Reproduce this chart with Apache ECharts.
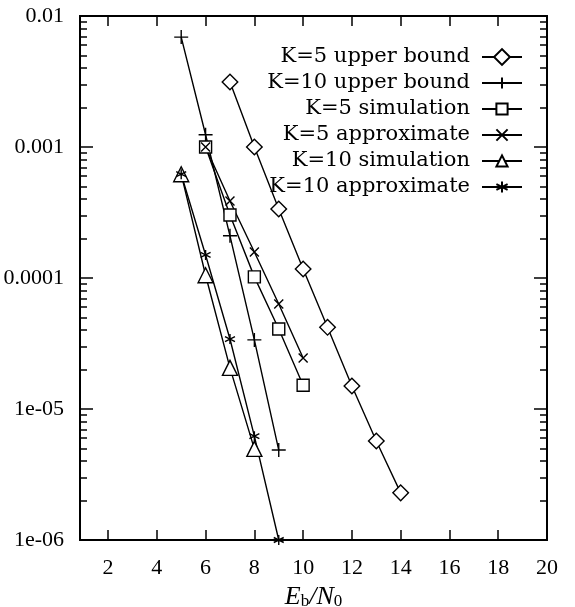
<!DOCTYPE html>
<html>
<head>
<meta charset="utf-8">
<script src="https://cdn.jsdelivr.net/npm/echarts@6/dist/echarts.min.js"></script>
<style>
  html, body { margin: 0; padding: 0; background: #fff; }
  #chart { width: 575px; height: 607px; }
</style>
</head>
<body>
<div id="chart"></div>
<script>
// values
const xK5ub = [7, 8, 9, 10, 11, 12, 13, 14]
const yK5ub = [3.13e-3, 1.0e-3, 3.36e-4, 1.17e-4, 4.2e-5, 1.5e-5, 5.7e-6, 2.29e-6]
const xK10ub = [5, 6, 7, 8, 9]
const yK10ub = [6.9e-3, 1.24e-3, 2.1e-4, 3.37e-5, 4.86e-6]
const xK5sim = [6, 7, 8, 9, 10]
const yK5sim = [1.0e-3, 3.03e-4, 1.02e-4, 4.08e-5, 1.52e-5]
const xK5apx = [6, 7, 8, 9, 10]
const yK5apx = [1.0e-3, 3.87e-4, 1.58e-4, 6.34e-5, 2.45e-5]
const xK10sim = [5, 6, 7, 8]
const yK10sim = [6.2e-4, 1.05e-4, 2.06e-5, 4.96e-6]
const xK10apx = [5, 6, 7, 8, 9]
const yK10apx = [6.2e-4, 1.5e-4, 3.42e-5, 6.2e-6, 1.0e-6]

const xTicks = [2, 4, 6, 8, 10, 12, 14, 16, 18, 20]
const yMajor = [1e-6, 1e-5, 1e-4, 1e-3, 1e-2]
const yLabels = ['1e-06', '1e-05', '0.0001', '0.001', '0.01']

// minor ticks 2..9 of each decade
const yMinor = []
yMajor.slice(0, 4).forEach(function (d) {
  for (let k = 2; k <= 9; k++) yMinor.push(d * k)
})

function pairs (xs, ys) {
  return xs.map(function (x, i) { return [x, ys[i]] })
}

const plusPath = 'path://M0,5L10,5M5,0L5,10'
const crossPath = 'path://M0,0L10,10M0,10L10,0'
const starPath = 'path://M5,0L5,10M0.7,2.5L9.3,7.5M0.7,7.5L9.3,2.5'

const tickFont = 'Liberation Serif'
const lineStyle = { color: '#000', width: 1.4 }
const itemStyle = { color: '#fff', borderColor: '#000', borderWidth: 1.4 }

function mkSeries (name, xs, ys, symbol, size, rotate) {
  return {
    name: name,
    type: 'line',
    data: pairs(xs, ys),
    symbol: symbol,
    symbolSize: size,
    symbolRotate: rotate || 0,
    showAllSymbol: true,
    lineStyle: lineStyle,
    itemStyle: itemStyle,
    emphasis: { disabled: true },
    z: 3
  }
}

const chart = echarts.init(document.getElementById('chart'))

const baseX = {
  type: 'value',
  min: 0.85,
  max: 20,
  splitLine: { show: false },
  axisLine: { lineStyle: { color: '#000', width: 2 } }
}
const baseY = {
  type: 'log',
  logBase: 10,
  min: 1e-6,
  max: 1e-2,
  splitLine: { show: false },
  axisLine: { lineStyle: { color: '#000', width: 2 } }
}

const option = {
  animation: false,
  backgroundColor: '#fff',
  grid: { left: 80, right: 28, top: 16, bottom: 67, containLabel: false, outerBoundsMode: 'none' },
  legend: {
    orient: 'vertical',
    right: 47,
    top: 41,
    align: 'right',
    itemWidth: 40,
    itemHeight: 14,
    itemGap: 4,
    textStyle: {
      fontFamily: 'DejaVu Serif', fontSize: 21, lineHeight: 22,
      color: '#000', padding: [0, 7, 0, 0]
    },
    data: ['K=5 upper bound', 'K=10 upper bound', 'K=5 simulation',
      'K=5 approximate', 'K=10 simulation', 'K=10 approximate']
  },
  xAxis: [
    Object.assign({}, baseX, {
      position: 'bottom',
      axisTick: { inside: true, length: 10, customValues: xTicks, lineStyle: { width: 1.5 } },
      axisLabel: {
        customValues: xTicks, margin: 17,
        fontFamily: tickFont, fontSize: 22, color: '#000'
      },
      name: '{i|E}{s|b}{i|/N}{s|0}',
      nameLocation: 'middle',
      nameGap: 41,
      nameTextStyle: {
        rich: {
          i: { fontFamily: tickFont, fontStyle: 'italic', fontSize: 26, color: '#000' },
          s: { fontFamily: tickFont, fontSize: 17, color: '#000', verticalAlign: 'bottom', padding: [10, 0, 0, 0] }
        }
      }
    }),
    Object.assign({}, baseX, {
      position: 'top',
      axisTick: { inside: true, length: 10, customValues: xTicks, lineStyle: { width: 1.5 } },
      axisLabel: { show: false }
    })
  ],
  yAxis: [
    Object.assign({}, baseY, {
      position: 'left',
      axisTick: { inside: true, length: 13, customValues: yMajor, lineStyle: { width: 1.5 } },
      axisLabel: {
        customValues: yMajor, margin: 16,
        fontFamily: tickFont, fontSize: 22, color: '#000',
        formatter: function (v) {
          const i = yMajor.findIndex(function (m) { return Math.abs(Math.log10(m) - Math.log10(v)) < 1e-6 })
          return i >= 0 ? yLabels[i] : ''
        }
      }
    }),
    Object.assign({}, baseY, {
      position: 'left',
      axisTick: { inside: true, length: 7, customValues: yMinor, lineStyle: { width: 1.5 } },
      axisLabel: { show: false }
    }),
    Object.assign({}, baseY, {
      position: 'right',
      axisTick: { inside: true, length: 13, customValues: yMajor, lineStyle: { width: 1.5 } },
      axisLabel: { show: false }
    }),
    Object.assign({}, baseY, {
      position: 'right',
      axisTick: { inside: true, length: 7, customValues: yMinor, lineStyle: { width: 1.5 } },
      axisLabel: { show: false }
    })
  ],
  series: [
    mkSeries('K=5 upper bound', xK5ub, yK5ub, 'rect', 11, 45),
    mkSeries('K=10 upper bound', xK10ub, yK10ub, plusPath, 14),
    mkSeries('K=5 simulation', xK5sim, yK5sim, 'rect', 12),
    mkSeries('K=5 approximate', xK5apx, yK5apx, crossPath, 9),
    mkSeries('K=10 simulation', xK10sim, yK10sim, 'triangle', 15),
    mkSeries('K=10 approximate', xK10apx, yK10apx, starPath, 10)
  ]
}

chart.setOption(option)
</script>
</body>
</html>
